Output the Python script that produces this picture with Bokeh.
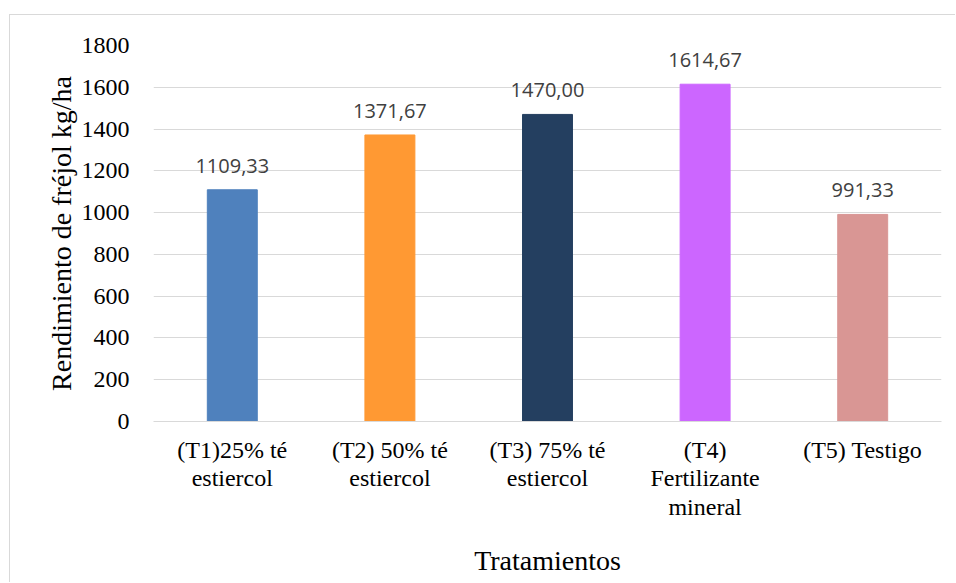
from bokeh.plotting import figure
from bokeh.models import ColumnDataSource, LabelSet, FactorRange
from bokeh.core.properties import value
from bokeh.embed import file_html
from bokeh.resources import INLINE

categories = ["(T1)25% té\nestiercol", "(T2) 50% té\nestiercol", "(T3) 75% té\nestiercol",
              "(T4)\nFertilizante\nmineral", "(T5) Testigo"]
values = [1109.33, 1371.67, 1470.00, 1614.67, 991.33]
labels = ["1109,33", "1371,67", "1470,00", "1614,67", "991,33"]
colors = ["#4F81BD", "#FF9933", "#243F60", "#CC66FF", "#D99694"]
y_ticks = [0, 200, 400, 600, 800, 1000, 1200, 1400, 1600, 1800]
x_title = "Tratamientos"
y_title = "Rendimiento de fréjol kg/ha"

src = ColumnDataSource(dict(cat=categories, val=values, lab=labels, col=colors))

p = figure(x_range=FactorRange(*categories), y_range=(0, 1800),
           width=946, height=568, output_backend="svg", toolbar_location=None,
           min_border_left=143, min_border_right=15, min_border_top=30, min_border_bottom=162)
p.margin = (14, 0, 0, 9)
p.styles = {"border-top": "1px solid #d9d9d9", "border-left": "1px solid #d9d9d9"}
p.outline_line_color = None
p.x_range.range_padding = 0
p.x_range.group_padding = 0

p.vbar(x="cat", top="val", width=0.317, color="col", source=src)

p.add_layout(LabelSet(x="cat", y="val", text="lab", source=src, y_offset=17,
                      text_align="center", text_baseline="alphabetic",
                      text_font=value("Open Sans"), text_font_size=value("20px"),
                      text_color="#404040"))

p.xgrid.grid_line_color = None
p.ygrid.grid_line_color = "#d9d9d9"
p.ygrid.grid_line_width = 1
p.yaxis.ticker = y_ticks

for ax in (p.xaxis[0], p.yaxis[0]):
    ax.major_tick_line_color = None
    ax.minor_tick_line_color = None
    ax.major_label_text_font = "Liberation Serif"
    ax.major_label_text_font_size = "24px"
    ax.major_label_text_font_style = "normal"
    ax.major_label_text_color = "#000000"
    ax.axis_label_text_font = "Liberation Serif"
    ax.axis_label_text_font_size = "28px"
    ax.axis_label_text_font_style = "normal"
    ax.axis_label_text_color = "#000000"

p.yaxis.axis_line_color = None
p.yaxis.major_label_standoff = 18
p.yaxis.axis_label = y_title
p.yaxis.axis_label_standoff = 2
p.xaxis.axis_line_color = "#d9d9d9"
p.xaxis.major_label_standoff = 9
p.xaxis.major_label_text_line_height = 1.1
p.xaxis.axis_label = x_title
p.xaxis.axis_label_standoff = 22

open("out.html", "w").write(file_html(p, INLINE))
